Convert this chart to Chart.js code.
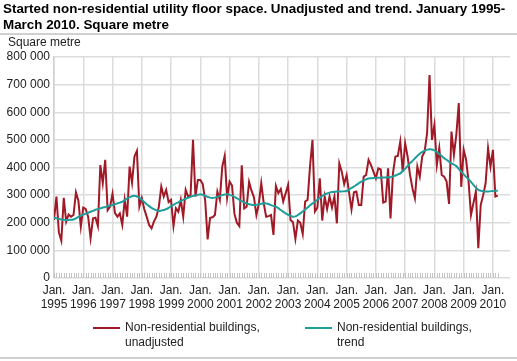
<!DOCTYPE html>
<html>
<head>
<meta charset="utf-8">
<script src="https://cdn.jsdelivr.net/npm/chart.js@4.4.1/dist/chart.umd.min.js"></script>
<style>
  body { margin: 0; background: #fff; font-family: "Liberation Sans", Arial, sans-serif; color: #222; }
  #wrap { position: relative; width: 517px; height: 361px; overflow: hidden; }
  #title { position: absolute; left: 3px; top: 1px; font-weight: bold; font-size: 13.4px; line-height: 16px; color: #000; white-space: nowrap; }
  #rule { position: absolute; left: 0; top: 33px; width: 517px; height: 2px; background: #d0d0d0; }
  #unit { position: absolute; left: 8px; top: 35px; font-size: 12px; }
  #chart { position: absolute; left: 0; top: 0; }
  .leg { position: absolute; top: 320px; font-size: 12px; line-height: 15px; }
  .leg i { position: absolute; left: -32px; top: 7px; width: 27px; height: 2px; }
  #bottom { position: absolute; left: 0; top: 357px; width: 517px; height: 2px; background: #d0d0d0; }
</style>
</head>
<body>
<div id="wrap">
  <canvas id="chart" width="517" height="361"></canvas>
  <div id="title">Started non-residential utility floor space. Unadjusted and trend. January 1995-<br>March 2010. Square metre</div>
  <div id="rule"></div>
  <div id="unit">Square metre</div>
  <div class="leg" id="leg1" style="left:125px"><i></i></div>
  <div class="leg" id="leg2" style="left:337px"><i></i></div>
  <div id="bottom"></div>
</div>
<script>
// monthly, Jan 1995 - Mar 2010, 1000 square metre
const years = ['1995', '1996', '1997', '1998', '1999', '2000', '2001', '2002',
    '2003', '2004', '2005', '2006', '2007', '2008', '2009', '2010'];

const unadjusted = [
    210, 295, 165, 135, 290, 204, 230, 222, 228, 310, 280, 186,
    255, 250, 222, 144, 216, 218, 188, 409, 343, 428, 245, 258,
    305, 235, 222, 234, 192, 283, 222, 403, 345, 440, 460, 258,
    290, 250, 222, 192, 180, 205, 222, 258, 331, 295, 319, 275,
    283, 188, 253, 240, 283, 222, 319, 295, 300, 500, 295, 355,
    355, 340, 280, 140, 218, 220, 228, 313, 283, 403, 442, 290,
    349, 335, 232, 200, 188, 408, 252, 258, 348, 316, 292, 228,
    268, 343, 271, 222, 224, 228, 156, 333, 307, 322, 277, 307,
    337, 210, 202, 142, 208, 200, 160, 277, 283, 405, 500, 241,
    255, 361, 208, 295, 250, 295, 255, 295, 198, 415, 385, 340,
    372, 310, 248, 310, 313, 264, 264, 367, 373, 428, 409, 385,
    361, 397, 393, 273, 277, 397, 216, 379, 440, 442, 494, 385,
    488, 440, 373, 325, 289, 403, 367, 440, 458, 524, 735, 500,
    554, 409, 470, 373, 367, 349, 268, 530, 446, 520, 633, 330,
    464, 428, 350, 228, 271, 313, 108, 265, 300, 343, 470, 403,
    464, 295, 298
];

const trend = [
    218, 216, 214, 212, 210, 210, 210, 211, 212, 216, 221, 226,
    230, 233, 236, 240, 243, 247, 250, 252, 255, 257, 260, 262,
    264, 267, 270, 273, 276, 282, 287, 292, 296, 298, 295, 290,
    283, 275, 267, 260, 254, 249, 245, 243, 244, 246, 249, 254,
    260, 265, 270, 274, 279, 283, 287, 290, 294, 297, 299, 301,
    303, 301, 297, 294, 291, 290, 291, 294, 297, 300, 302, 303,
    301, 298, 294, 289, 283, 278, 274, 270, 267, 265, 264, 265,
    267, 269, 270, 270, 268, 264, 261, 258, 253, 246, 240, 234,
    229, 225, 222, 223, 228, 234, 241, 248, 255, 263, 270, 276,
    283, 290, 297, 303, 306, 309, 311, 312, 313, 313, 313, 314,
    315, 320, 326, 331, 337, 343, 349, 353, 357, 360, 361, 362,
    363, 363, 363, 364, 364, 365, 365, 368, 371, 375, 379, 387,
    396, 405, 415, 424, 433, 442, 450, 456, 461, 464, 466, 465,
    462, 456, 449, 442, 434, 428, 421, 415, 410, 405, 395, 385,
    375, 366, 358, 348, 337, 327, 319, 316, 314, 313, 313, 314,
    315, 316, 316
];

const seriesNames = [
    ['Non-residential buildings,', 'unadjusted'],
    ['Non-residential buildings,', 'trend']
];
const colors = ['#a01926', '#1f9e9a'];

// html legend
['leg1', 'leg2'].forEach(function(id, k) {
    const el = document.getElementById(id);
    el.insertAdjacentHTML('beforeend', seriesNames[k].join('<br>'));
    el.querySelector('i').style.background = colors[k];
});

// small month ticks along the bottom of the plot
const monthTicks = {
    id: 'monthTicks',
    beforeDatasetsDraw(chart) {
        const ctx = chart.ctx;
        const area = chart.chartArea;
        const x = chart.scales.x;
        ctx.save();
        ctx.strokeStyle = '#c4c4c4';
        ctx.lineWidth = 1;
        for (let i = 0; i < unadjusted.length; i++) {
            const px = Math.round(x.getPixelForValue(i)) + 0.5;
            ctx.beginPath();
            ctx.moveTo(px, area.bottom);
            ctx.lineTo(px, area.bottom - 5);
            ctx.stroke();
        }
        ctx.restore();
    }
};

const tickFont = { family: '"Liberation Sans", Arial, sans-serif', size: 12, lineHeight: 1.17 };

new Chart(document.getElementById('chart'), {
    type: 'line',
    data: {
        datasets: [{
            label: seriesNames[0].join(' '),
            data: unadjusted.map((v, i) => ({ x: i, y: v })),
            borderColor: colors[0],
            borderWidth: 2,
            pointRadius: 0,
            tension: 0,
            order: 2
        }, {
            label: seriesNames[1].join(' '),
            data: trend.map((v, i) => ({ x: i, y: v })),
            borderColor: colors[1],
            borderWidth: 2,
            pointRadius: 0,
            tension: 0.4,
            order: 1
        }]
    },
    options: {
        responsive: false,
        animation: false,
        layout: { padding: { left: 0, right: 7, top: 57, bottom: 0 } },
        plugins: {
            legend: { display: false },
            tooltip: { enabled: false }
        },
        scales: {
            x: {
                type: 'linear',
                min: 0,
                max: 187,
                afterFit: function(s) { s.height = 83; },
                grid: { color: '#dcdcdc', lineWidth: 1.5, drawTicks: false },
                border: { display: false },
                ticks: {
                    stepSize: 12,
                    includeBounds: false,
                    autoSkip: false,
                    maxRotation: 0,
                    minRotation: 0,
                    padding: 6,
                    color: '#222',
                    font: tickFont,
                    callback: function(v) {
                        return v % 12 === 0 ? ['Jan.', years[v / 12]] : '';
                    }
                }
            },
            y: {
                min: 0,
                max: 800,
                afterFit: function(s) { s.width = 54; },
                grid: { color: '#dcdcdc', lineWidth: 1.5, drawTicks: false },
                border: { color: '#d0d0d0', width: 1.5 },
                ticks: {
                    stepSize: 100,
                    padding: 4,
                    color: '#222',
                    font: tickFont,
                    callback: function(v) { return v === 0 ? '0' : v + ' 000'; }
                }
            }
        }
    },
    plugins: [monthTicks]
});
</script>
</body>
</html>
